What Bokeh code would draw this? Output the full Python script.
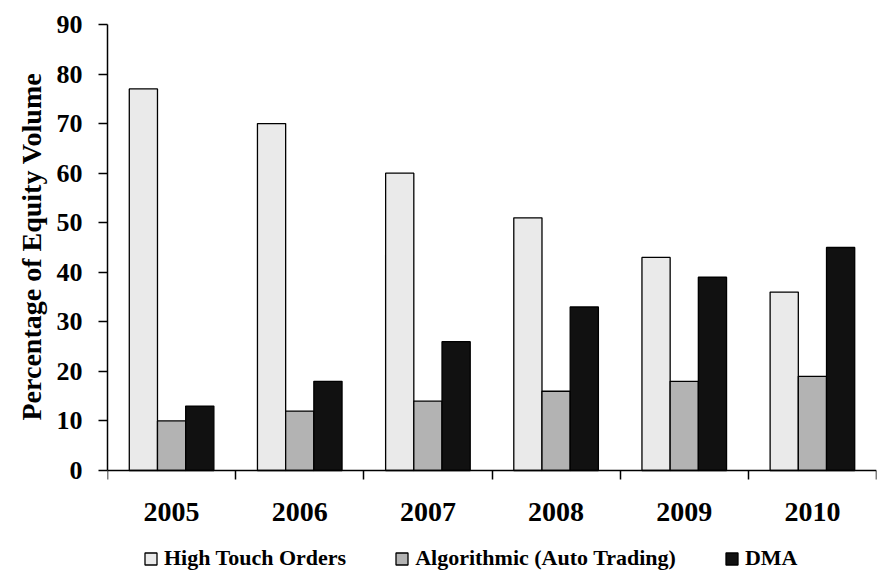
import numpy as np
from bokeh.plotting import figure
from bokeh.models import FixedTicker, Range1d, Legend, LegendItem, ColumnDataSource, Title
from bokeh.embed import file_html
from bokeh.resources import INLINE

years = ["2005", "2006", "2007", "2008", "2009", "2010"]
high_touch = [77, 70, 60, 51, 43, 36]
algorithmic = [10, 12, 14, 16, 18, 19]
dma = [13, 18, 26, 33, 39, 45]
series_names = ["High Touch Orders", "Algorithmic (Auto Trading)", "DMA"]
series_colors = ["#EAEAEA", "#B3B3B3", "#111111"]
y_ticks = [0, 10, 20, 30, 40, 50, 60, 70, 80, 90]
y_axis_title = "Percentage of Equity Volume"

FONT = "Liberation Serif"

# frame extends below zero to make room for the category labels and the legend
p = figure(width=893, height=585, output_backend="svg", toolbar_location=None,
           x_range=Range1d(0, len(years)), y_range=Range1d(-23.2, 90),
           min_border_left=107, min_border_right=17, min_border_top=24,
           min_border_bottom=0)
p.outline_line_color = None
p.grid.visible = False
p.background_fill_color = "white"
p.border_fill_color = "white"

centers = np.arange(len(years)) + 0.5
width = 0.22
offsets = [-0.22, 0.0, 0.22]
renderers = []
for vals, off, col in zip([high_touch, algorithmic, dma], offsets, series_colors):
    src = ColumnDataSource(dict(x=centers + off, top=vals))
    r = p.vbar(x="x", top="top", bottom=0, width=width, source=src,
               fill_color=col, line_color="black", line_width=1.3)
    renderers.append(r)

# x axis at y=0: labels at category centres, ticks at boundaries
xa = p.xaxis[0]
xa.fixed_location = 0
xa.ticker = FixedTicker(ticks=list(centers), minor_ticks=list(range(len(years) + 1)))
xa.major_label_overrides = {float(c): y for c, y in zip(centers, years)}
xa.major_tick_out = 0
xa.major_tick_in = 0
xa.minor_tick_out = 9
xa.minor_tick_in = 0
xa.minor_tick_line_color = "black"
xa.minor_tick_line_width = 1.5
xa.axis_line_width = 1.5
xa.axis_line_color = "black"
xa.major_label_text_font = FONT
xa.major_label_text_font_style = "bold"
xa.major_label_text_font_size = "28px"
xa.major_label_text_color = "black"
xa.major_label_standoff = 23

ya = p.yaxis[0]
ya.bounds = (0, 90)
ya.ticker = FixedTicker(ticks=y_ticks, minor_ticks=[])
ya.major_tick_out = 9
ya.major_tick_in = 0
ya.major_tick_line_width = 1.5
ya.major_tick_line_color = "black"
ya.axis_line_width = 1.5
ya.axis_line_color = "black"
ya.major_label_text_font = FONT
ya.major_label_text_font_style = "bold"
ya.major_label_text_font_size = "26px"
ya.major_label_text_color = "black"
ya.major_label_standoff = 16

ttl = Title(text=y_axis_title, align="left", offset=165,
            text_font=FONT, text_font_style="bold", text_font_size="28px",
            text_color="black", standoff=14)
p.add_layout(ttl, "left")

legend = Legend(items=[LegendItem(label=n, renderers=[r]) for n, r in zip(series_names, renderers)],
                orientation="horizontal", location=(36, 14))
legend.label_text_font = "Times New Roman"
legend.label_text_font_style = "bold"
legend.label_text_font_size = "22px"
legend.label_text_color = "black"
legend.glyph_width = 15
legend.glyph_height = 15
legend.label_standoff = 6
legend.spacing = 48
legend.padding = 4
legend.margin = 0
legend.border_line_color = None
legend.background_fill_alpha = 0
p.add_layout(legend, "center")

open("out.html", "w").write(file_html(p, INLINE))
